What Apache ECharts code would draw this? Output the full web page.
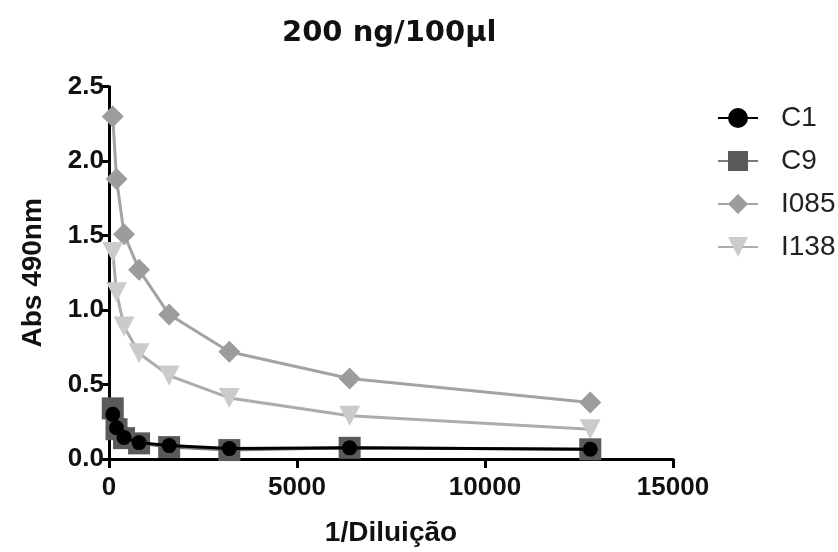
<!DOCTYPE html>
<html>
<head>
<meta charset="utf-8">
<script src="https://cdn.jsdelivr.net/npm/echarts@6/dist/echarts.min.js"></script>
<style>html,body{margin:0;padding:0;background:#fff;}#c{width:838px;height:552px;}</style>
</head>
<body>
<div id="c"></div>
<script>
var dilutions = [100, 200, 400, 800, 1600, 3200, 6400, 12800];
var seriesNames = ['C1', 'C9', 'I085', 'I138'];
var c1 = [0.30, 0.21, 0.145, 0.11, 0.09, 0.07, 0.075, 0.065];
var c9 = [0.34, 0.20, 0.14, 0.105, 0.08, 0.06, 0.075, 0.065];
var i085 = [2.30, 1.88, 1.51, 1.27, 0.97, 0.72, 0.54, 0.38];
var i138 = [1.39, 1.12, 0.89, 0.71, 0.56, 0.41, 0.29, 0.20];
var xTicks = [0, 5000, 10000, 15000];
var yTicks = [0, 0.5, 1.0, 1.5, 2.0, 2.5];

function pairs(ys) { return dilutions.map(function (x, i) { return [x, ys[i]]; }); }

var chart = echarts.init(document.getElementById('c'), null, {renderer: 'canvas'});
var axisFont = {fontFamily: 'Liberation Sans', fontWeight: 'bold', fontSize: 26, color: '#111'};
chart.setOption({
  animation: false,
  backgroundColor: '#fff',
  title: {
    text: '200 ng/100\u00b5l',
    left: 282, top: 19, padding: 0,
    textStyle: {fontFamily: 'DejaVu Sans', fontWeight: 'bold', fontSize: 29, color: '#111'}
  },
  legend: {
    orient: 'vertical', left: 712, top: 99,
    itemWidth: 40, itemHeight: 25, itemGap: 15,
    data: seriesNames,
    textStyle: {fontFamily: 'Liberation Sans', fontSize: 28, color: '#222', padding: [0, 0, 0, 18]}
  },
  grid: {left: 109, right: 165, top: 86.7, bottom: 90.3, containLabel: false},
  xAxis: {
    type: 'value', min: xTicks[0], max: xTicks[xTicks.length - 1], interval: 5000,
    name: '1/Dilui\u00e7\u00e3o', nameLocation: 'middle', nameGap: 60,
    nameTextStyle: {fontFamily: 'Liberation Sans', fontWeight: 'bold', fontSize: 28, color: '#111'},
    axisLine: {onZero: false, lineStyle: {color: '#000', width: 3}},
    axisTick: {show: true, length: 9, lineStyle: {color: '#000', width: 3}},
    axisLabel: Object.assign({margin: 16, formatter: function (v) { return String(v); }}, axisFont),
    splitLine: {show: false}
  },
  yAxis: {
    type: 'value', min: yTicks[0], max: yTicks[yTicks.length - 1], interval: 0.5,
    name: 'Abs 490nm', nameLocation: 'middle', nameGap: 62, nameRotate: 90,
    nameTextStyle: {fontFamily: 'Liberation Sans', fontWeight: 'bold', fontSize: 28, color: '#111'},
    axisLine: {onZero: false, lineStyle: {color: '#000', width: 3}},
    axisTick: {show: true, length: 9, lineStyle: {color: '#000', width: 3}},
    axisLabel: Object.assign({margin: 5, formatter: function (v) { return v.toFixed(1); }}, axisFont),
    splitLine: {show: false}
  },
  series: [
    {name: 'I085', type: 'line', data: pairs(i085), z: 2,
      symbol: 'diamond', symbolSize: [22, 22],
      lineStyle: {color: '#a3a3a3', width: 3}, itemStyle: {color: '#9c9c9c'}},
    {name: 'I138', type: 'line', data: pairs(i138), z: 2,
      symbol: 'triangle', symbolSize: [21, 20], symbolRotate: 180,
      lineStyle: {color: '#acacac', width: 3}, itemStyle: {color: '#cbcbcb'}},
    {name: 'C9', type: 'line', data: pairs(c9), z: 3,
      symbol: 'rect', symbolSize: 22,
      lineStyle: {color: '#7a7a7a', width: 3}, itemStyle: {color: '#5a5a5a'}},
    {name: 'C1', type: 'line', data: pairs(c1), z: 4,
      symbol: 'circle', symbolSize: 15,
      lineStyle: {color: '#000', width: 3}, itemStyle: {color: '#000'}}
  ]
});
</script>
</body>
</html>
